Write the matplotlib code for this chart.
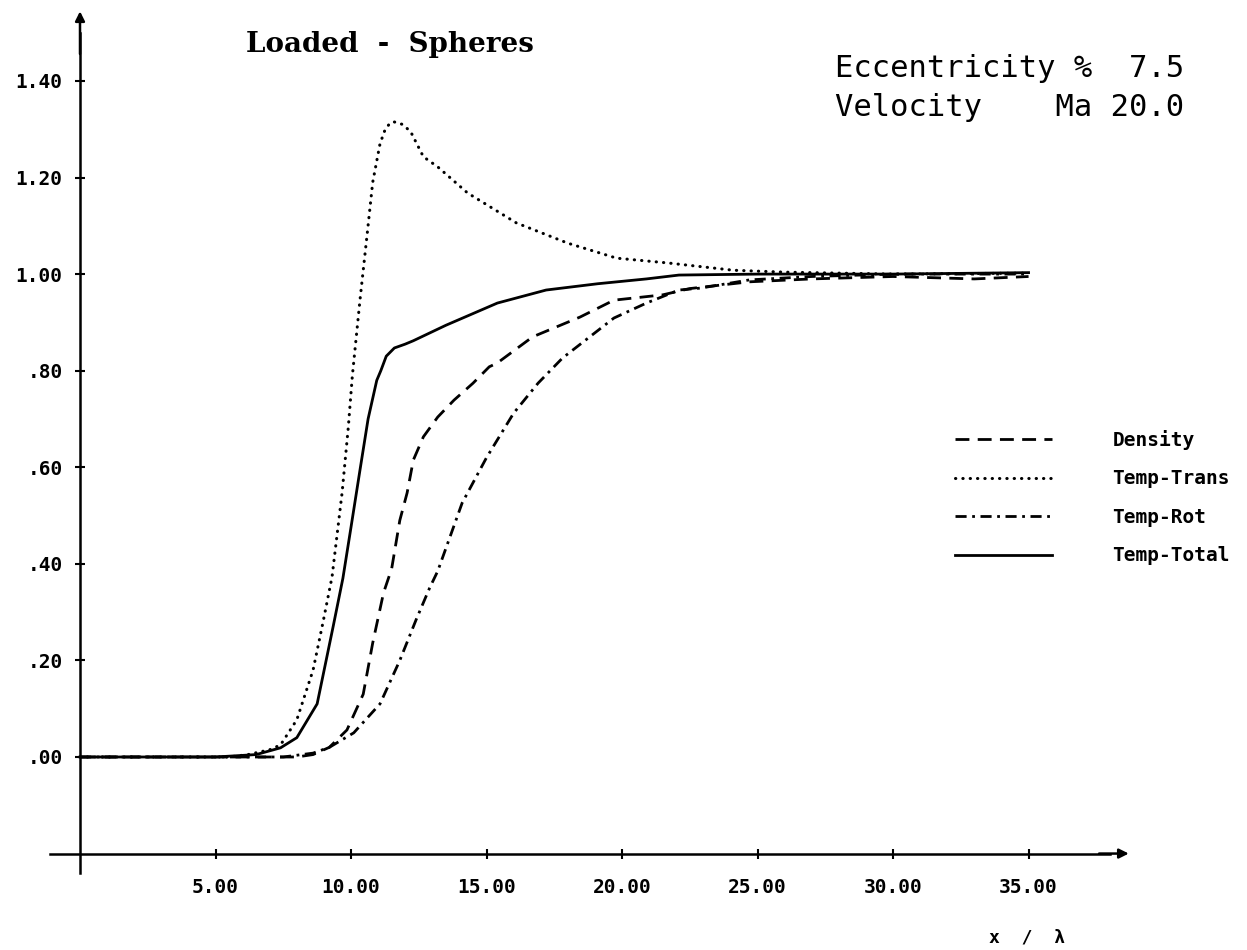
import numpy as np
import matplotlib
matplotlib.use("Agg")
import matplotlib.pyplot as plt

# profiles across the shock, normalised (x / lambda)
density_x = [0, 8.0, 8.6, 9.2, 9.85, 10.45, 10.8, 11.2, 11.5, 11.8, 12.07, 12.3, 12.67, 13.2,
             13.8, 14.5, 15.1, 15.4, 16.7, 18.45, 19.7, 21.5, 22.5, 24.7, 27, 30, 33, 35]
density_y = [0, 0, 0.005, 0.02, 0.056, 0.13, 0.236, 0.34, 0.39, 0.49, 0.547, 0.615, 0.663, 0.704,
             0.739, 0.774, 0.808, 0.816, 0.87, 0.911, 0.946, 0.957, 0.97, 0.984, 0.99, 0.995, 0.99, 0.995]

trans_x = [0, 5.5, 6.2, 7.0, 7.4, 8.0, 8.6, 8.97, 9.3, 9.67, 9.9, 10.05, 10.33, 10.6, 10.8, 11.07,
           11.25, 11.44, 11.6, 11.9, 12.2, 12.67, 13.2, 14.3, 16.1, 18.0, 19.8, 21.7, 24.1, 26, 30, 35]
trans_y = [0, 0, 0.005, 0.015, 0.025, 0.077, 0.18, 0.28, 0.373, 0.547, 0.683, 0.79, 0.946, 1.085, 1.19, 1.27,
           1.298, 1.313, 1.315, 1.31, 1.295, 1.243, 1.222, 1.168, 1.106, 1.064, 1.033, 1.023, 1.008, 1.004, 1.0, 1.002]

rot_x = [0, 7.5, 8.6, 9.2, 10.1, 11.07, 11.8, 12.4, 12.9, 13.2, 14.1, 15.0, 16.0, 16.9, 17.8,
         19.7, 20.9, 22.1, 22.9, 24.7, 27, 30, 35]
rot_y = [0, 0, 0.008, 0.02, 0.05, 0.11, 0.2, 0.284, 0.35, 0.385, 0.526, 0.62, 0.712, 0.774, 0.826,
         0.909, 0.94, 0.967, 0.971, 0.988, 0.995, 1.0, 1.0]

total_x = [0, 5, 6.5, 7.4, 8.0, 8.75, 9.34, 9.7, 10.0, 10.33, 10.63, 10.95, 11.1, 11.3, 11.6, 12.0,
           12.3, 13.5, 15.4, 17.2, 19.1, 20.9, 22.1, 25, 30, 35]
total_y = [0, 0, 0.005, 0.019, 0.04, 0.11, 0.27, 0.37, 0.476, 0.594, 0.70, 0.78, 0.80, 0.83, 0.847, 0.855,
           0.862, 0.894, 0.94, 0.967, 0.98, 0.99, 0.998, 1.0, 1.0, 1.003]

xticks = [5, 10, 15, 20, 25, 30, 35]
xtick_labels = ["5.00", "10.00", "15.00", "20.00", "25.00", "30.00", "35.00"]
yticks = [0, 0.2, 0.4, 0.6, 0.8, 1.0, 1.2, 1.4]
ytick_labels = [".00", ".20", ".40", ".60", ".80", "1.00", "1.20", "1.40"]

mono = "DejaVu Sans Mono"

fig = plt.figure(figsize=(12.47, 9.5), dpi=100)
ax = fig.add_axes([0, 0, 1, 1])
ax.set_xlim(-2.952, 43.06)
ax.set_ylim(-0.3997, 1.5676)
ax.patch.set_visible(False)

lw = 2.0
ax.plot(density_x, density_y, color="black", lw=lw, linestyle=(0, (5, 3)), label="Density")
ax.plot(trans_x, trans_y, color="black", lw=2.2, linestyle=(0, (0.1, 2.3)),
        dash_capstyle="round", label="Temp-Trans")
ax.plot(rot_x, rot_y, color="black", lw=lw, linestyle=(0, (4, 2, 1, 2)), label="Temp-Rot")
ax.plot(total_x, total_y, color="black", lw=lw, linestyle="-", label="Temp-Total")

# axes drawn as crossing lines with arrow ends
for s in ["top", "right"]:
    ax.spines[s].set_visible(False)
ax.spines["left"].set_position(("data", 0))
ax.spines["bottom"].set_position(("data", -0.2))
ax.spines["left"].set_bounds(-0.24, 1.50)
ax.spines["bottom"].set_bounds(-1.1, 38.0)
ax.spines["left"].set_linewidth(1.8)
ax.spines["bottom"].set_linewidth(1.8)
ax.annotate("", xy=(0, 1.55), xytext=(0, 1.45),
            arrowprops=dict(arrowstyle="-|>", lw=1.8, color="black", mutation_scale=14))
ax.annotate("", xy=(38.8, -0.2), xytext=(37.5, -0.2),
            arrowprops=dict(arrowstyle="-|>", lw=1.8, color="black", mutation_scale=14))

ax.set_xticks(xticks)
ax.set_xticklabels(xtick_labels)
ax.set_yticks(yticks)
ax.set_yticklabels(ytick_labels)
ax.tick_params(direction="inout", length=7, width=1.5)
ax.tick_params(axis="x", pad=14)
ax.tick_params(axis="y", pad=9)
for lab in ax.get_xticklabels() + ax.get_yticklabels():
    lab.set_fontfamily(mono)
    lab.set_fontweight("bold")
    lab.set_fontsize(14)

fig.text(0.313, 0.945, "Loaded  -  Spheres", ha="center", va="baseline",
         family="DejaVu Serif", fontweight="bold", fontsize=20)
fig.text(0.670, 0.919, "Eccentricity %  7.5", ha="left", va="baseline",
         family=mono, fontsize=22)
fig.text(0.670, 0.878, "Velocity    Ma 20.0", ha="left", va="baseline",
         family=mono, fontsize=22)
fig.text(1027 / 1247, 1 - 937 / 950, "x  /  λ", ha="center", va="center",
         family=mono, fontweight="bold", fontsize=13)

leg = ax.legend(loc="upper left", bbox_to_anchor=(955 / 1247, 1 - 430 / 950),
                bbox_transform=fig.transFigure, frameon=False, borderpad=0,
                borderaxespad=0, handlelength=5.0, handletextpad=3.1, labelspacing=1.0,
                prop=dict(family=mono, weight="bold", size=14))

fig.savefig("out.png", dpi=100, facecolor="white")
